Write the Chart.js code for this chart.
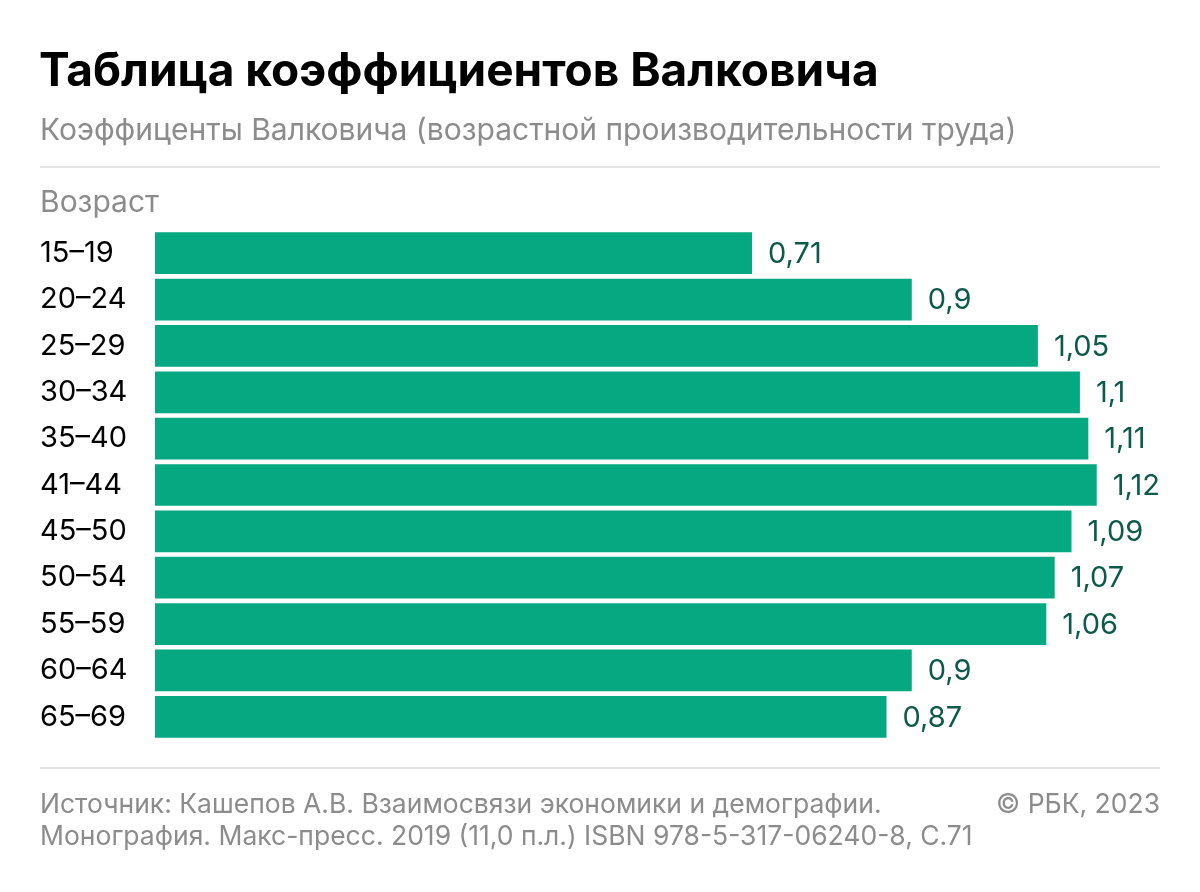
<!DOCTYPE html>
<html><head><meta charset="utf-8">
<script src="https://cdn.jsdelivr.net/npm/chart.js@4"></script>
<style>html,body{margin:0;padding:0;background:#fff;}#wrap{width:1200px;height:892px;position:relative;}</style>
</head><body><div id="wrap"><canvas id="c" width="1200" height="892"></canvas></div>
<script>
const categories = ["15–19","20–24","25–29","30–34","35–40","41–44","45–50","50–54","55–59","60–64","65–69"];
const values = [0.71,0.9,1.05,1.1,1.11,1.12,1.09,1.07,1.06,0.9,0.87];
const valueLabels = ["0,71","0,9","1,05","1,1","1,11","1,12","1,09","1,07","1,06","0,9","0,87"];
const titleText = "Таблица коэффициентов Валковича";
const subtitleText = "Коэффиценты Валковича (возрастной производительности труда)";
const axisTitle = "Возраст";
const sourceLines = ["Источник: Кашепов А.В. Взаимосвязи экономики и демографии.","Монография. Макс-пресс. 2019 (11,0 п.л.) ISBN 978-5-317-06240-8, С.71"];
const credit = "© РБК, 2023";

const FONT = "Inter, 'Noto Sans', sans-serif";

const decor = {
  id: 'decor',
  afterDraw(chart) {
    const ctx = chart.ctx;
    ctx.save();
    ctx.textBaseline = 'alphabetic';
    ctx.textAlign = 'left';
    ctx.fillStyle = '#000';
    ctx.font = "bold 46px " + FONT;
    ctx.fillText(titleText, 39, 86);
    ctx.fillStyle = '#8c8c8c';
    ctx.font = "30px " + FONT;
    ctx.fillText(subtitleText, 40, 140);
    ctx.fillText(axisTitle, 40, 212);
    ctx.strokeStyle = '#e3e3e3';
    ctx.lineWidth = 2;
    ctx.beginPath(); ctx.moveTo(40, 167); ctx.lineTo(1160, 167); ctx.stroke();
    ctx.beginPath(); ctx.moveTo(40, 768); ctx.lineTo(1160, 768); ctx.stroke();
    ctx.font = "26.5px " + FONT;
    ctx.fillStyle = '#8c8c8c';
    ctx.fillText(sourceLines[0], 40, 813);
    ctx.fillText(sourceLines[1], 40, 845);
    ctx.textAlign = 'right';
    ctx.fillText(credit, 1160, 813);
    // value labels
    const meta = chart.getDatasetMeta(0);
    ctx.textAlign = 'left';
    ctx.textBaseline = 'middle';
    ctx.fillStyle = '#0d5a4b';
    ctx.font = "29px " + FONT;
    meta.data.forEach((bar, i) => {
      ctx.fillText(valueLabels[i], bar.x + 16, bar.y + 1);
    });
    ctx.restore();
  }
};

new Chart(document.getElementById('c'), {
  type: 'bar',
  data: {
    labels: categories,
    datasets: [{
      data: values,
      backgroundColor: '#05a880',
      borderWidth: 0,
      categoryPercentage: 1,
      barPercentage: 0.9
    }]
  },
  options: {
    indexAxis: 'y',
    responsive: false,
    animation: false,
    devicePixelRatio: 1,
    layout: { padding: { left: 40, top: 230, bottom: 152, right: 36 } },
    plugins: { legend: { display: false }, tooltip: { enabled: false }, title: { display: false } },
    scales: {
      x: { display: false, min: 0, max: 1.2, grid: { display: false } },
      y: {
        grid: { display: false, drawTicks: false },
        border: { display: false },
        ticks: { color: '#000', font: { family: FONT, size: 29 }, crossAlign: 'far', padding: 0 },
        afterFit(scale) { scale.width = 115; }
      }
    }
  },
  plugins: [decor]
});
</script>
</body></html>
